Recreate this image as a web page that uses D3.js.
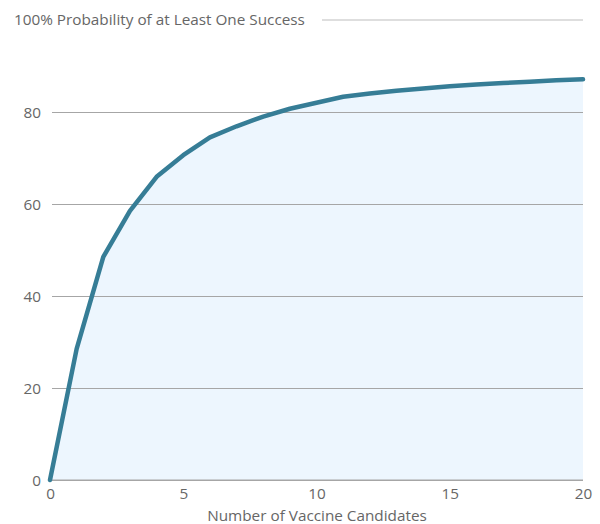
<!DOCTYPE html>
<html>
<head>
<meta charset="utf-8">
<script src="https://cdn.jsdelivr.net/npm/d3@7"></script>
<style>
body { margin: 0; background: #fff; }
text { font-family: "Open Sans", Lato, sans-serif; fill: #666; }
</style>
</head>
<body>
<div id="chart"></div>
<script>
// data
var candidates = [0, 1, 2, 3, 4, 5, 6, 7, 8, 9, 10, 11, 12, 13, 14, 15, 16, 17, 18, 19, 20];
var probability = [0, 28.5, 48.5, 58.5, 65.9, 70.6, 74.5, 76.9, 79.0, 80.7, 82.0, 83.3, 84.0, 84.6, 85.1, 85.6, 86.0, 86.3, 86.6, 86.9, 87.1];
var xTicks = [0, 5, 10, 15, 20];
var yTicks = [0, 20, 40, 60, 80];

var width = 600, height = 524;
var fs = '15.3px';
var svg = d3.select('#chart').append('svg')
    .attr('width', width)
    .attr('height', height);

var x = d3.scaleLinear().domain([0, 20]).range([50, 583]);
var y = d3.scaleLinear().domain([0, 100]).range([480, 20]);

var data = candidates.map(function(c, i) { return { c: c, p: probability[i] }; });

// area fill
svg.append('path')
    .datum(data)
    .attr('fill', '#edf6fe')
    .attr('d', d3.area().x(d => x(d.c)).y0(y(0)).y1(d => y(d.p)));

// gridlines
var yaxis = d3.axisLeft(y)
    .tickValues(yTicks)
    .tickSize(-(583 - 52))
    .tickPadding(11);
var gy = svg.append('g')
    .attr('transform', 'translate(52,0)')
    .call(yaxis);
gy.select('.domain').remove();
gy.selectAll('line').attr('stroke', '#a6a6a6').attr('stroke-width', 1);
gy.selectAll('text').style('font-size', fs).attr('fill', '#666').attr('dy', '0.35em');

// 100% label with rule
svg.append('text')
    .attr('x', 14)
    .attr('y', 25)
    .style('font-size', fs)
    .text('100% Probability of at Least One Success');
svg.append('line')
    .attr('x1', 322).attr('x2', 583)
    .attr('y1', y(100)).attr('y2', y(100))
    .attr('stroke', '#bdbdbd')
    .attr('stroke-width', 1.2);

// x axis
var xaxis = d3.axisBottom(x).tickValues(xTicks).tickSize(0).tickPadding(8);
var gx = svg.append('g')
    .attr('transform', 'translate(0,480)')
    .call(xaxis);
gx.select('.domain').remove();
gx.selectAll('text').style('font-size', fs).attr('fill', '#666');

svg.append('line')
    .attr('x1', 50).attr('x2', 583)
    .attr('y1', y(0)).attr('y2', y(0))
    .attr('stroke', '#a6a6a6');

svg.append('text')
    .attr('x', 317)
    .attr('y', 521)
    .attr('text-anchor', 'middle')
    .style('font-size', fs)
    .text('Number of Vaccine Candidates');

// line
svg.append('path')
    .datum(data)
    .attr('fill', 'none')
    .attr('stroke', '#367d96')
    .attr('stroke-width', 4.5)
    .attr('stroke-linecap', 'round')
    .attr('stroke-linejoin', 'round')
    .attr('d', d3.line().x(d => x(d.c)).y(d => y(d.p)));
</script>
</body>
</html>
